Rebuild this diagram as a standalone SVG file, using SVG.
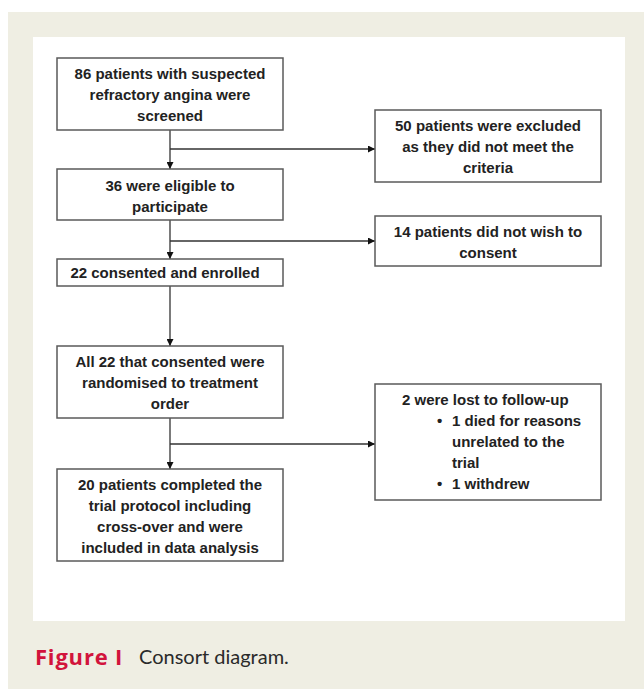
<svg xmlns="http://www.w3.org/2000/svg" width="644" height="689" viewBox="0 0 644 689">
<defs>
<style>
.box{fill:#fff;stroke:#5a5a5a;stroke-width:1.5}
.t{font-family:"Liberation Sans",Arial,sans-serif;font-weight:bold;font-size:15px;fill:#222}
.c{text-anchor:middle}
.ln{fill:none;stroke:#333;stroke-width:1.3}
.cap{font-family:Lato,"Open Sans",sans-serif;font-size:20px}
.fig{font-family:"Open Sans",Lato,sans-serif;font-weight:bold;font-size:22px;letter-spacing:0.8px;fill:#d2143c}
</style>
<marker id="ah" viewBox="0 0 10 10" refX="10" refY="5" markerWidth="7" markerHeight="7" markerUnits="userSpaceOnUse" orient="auto">
<path d="M0,0 L10,5 L0,10 z" fill="#111"/>
</marker>
</defs>
<rect x="8" y="12" width="636" height="677" fill="#efeee3"/>
<rect x="33" y="37" width="592" height="584" fill="#fff"/>

<g id="connectors">
<line class="ln" x1="170" y1="130" x2="170" y2="169" marker-end="url(#ah)"/>
<line class="ln" x1="170" y1="149" x2="375" y2="149" marker-end="url(#ah)"/>
<line class="ln" x1="170" y1="220" x2="170" y2="259" marker-end="url(#ah)"/>
<line class="ln" x1="170" y1="241" x2="375" y2="241" marker-end="url(#ah)"/>
<line class="ln" x1="170" y1="286" x2="170" y2="346" marker-end="url(#ah)"/>
<line class="ln" x1="170" y1="418" x2="170" y2="469" marker-end="url(#ah)"/>
<line class="ln" x1="170" y1="444" x2="375" y2="444" marker-end="url(#ah)"/>
</g>

<g id="screened">
<rect class="box" x="57" y="58" width="226" height="72"/>
<text class="t c" x="170" y="79">86 patients with suspected</text>
<text class="t c" x="170" y="100">refractory angina were</text>
<text class="t c" x="170" y="121">screened</text>
</g>

<g id="excluded">
<rect class="box" x="375" y="110" width="226" height="72"/>
<text class="t c" x="488" y="131">50 patients were excluded</text>
<text class="t c" x="488" y="152">as they did not meet the</text>
<text class="t c" x="488" y="173">criteria</text>
</g>

<g id="eligible">
<rect class="box" x="57" y="169" width="226" height="51"/>
<text class="t c" x="170" y="191">36 were eligible to</text>
<text class="t c" x="170" y="212">participate</text>
</g>

<g id="notconsent">
<rect class="box" x="375" y="216" width="226" height="50"/>
<text class="t c" x="488" y="237">14 patients did not wish to</text>
<text class="t c" x="488" y="258">consent</text>
</g>

<g id="enrolled">
<rect class="box" x="57" y="259" width="226" height="27"/>
<text class="t c" x="165" y="278">22 consented and enrolled</text>
</g>

<g id="randomised">
<rect class="box" x="57" y="346" width="226" height="72"/>
<text class="t c" x="170" y="367">All 22 that consented were</text>
<text class="t c" x="170" y="388">randomised to treatment</text>
<text class="t c" x="170" y="409">order</text>
</g>

<g id="lost">
<rect class="box" x="375" y="384" width="226" height="116"/>
<text class="t" x="402" y="405">2 were lost to follow-up</text>
<text class="t" x="437" y="426">•</text>
<text class="t" x="452" y="426">1 died for reasons</text>
<text class="t" x="452" y="447">unrelated to the</text>
<text class="t" x="452" y="468">trial</text>
<text class="t" x="437" y="489">•</text>
<text class="t" x="452" y="489">1 withdrew</text>
</g>

<g id="completed">
<rect class="box" x="57" y="469" width="226" height="92"/>
<text class="t c" x="170" y="490">20 patients completed the</text>
<text class="t c" x="170" y="511">trial protocol including</text>
<text class="t c" x="170" y="532">cross-over and were</text>
<text class="t c" x="170" y="553">included in data analysis</text>
</g>

<text class="fig" x="35" y="665">Figure I</text>
<text class="cap" x="139" y="664" fill="#2a2a2a">Consort diagram.</text>
</svg>
